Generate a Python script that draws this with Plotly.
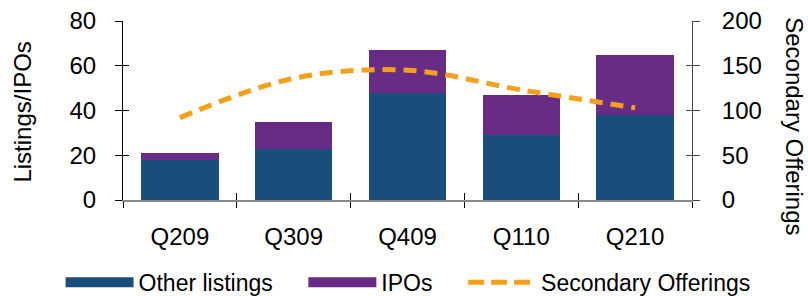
import plotly.graph_objects as go

quarters = ["Q209", "Q309", "Q409", "Q110", "Q210"]
other_listings = [18, 23, 48, 29, 38]
ipos = [3, 12, 19, 18, 27]
secondary_offerings = [92, 136, 145, 123, 103]

left_ticks = [0, 20, 40, 60, 80]
right_ticks = [0, 50, 100, 150, 200]

BLUE = "#1A4E7A"
PURPLE = "#682C87"
ORANGE = "#F5A01A"
FONT = "Liberation Sans, Arial, sans-serif"
FS = 24
LFS = 23
NB = "\u00a0"

fig = go.Figure()
fig.add_trace(go.Bar(x=quarters, y=other_listings, name="Other listings",
                     marker=dict(color=BLUE, line=dict(width=0)), showlegend=False))
fig.add_trace(go.Bar(x=quarters, y=ipos, name="IPOs",
                     marker=dict(color=PURPLE, line=dict(width=0)), showlegend=False))
fig.add_trace(go.Scatter(x=quarters, y=secondary_offerings, name="Secondary Offerings",
                         yaxis="y2", mode="lines",
                         line=dict(color=ORANGE, width=5, dash="13px,8px", shape="spline", smoothing=1.0),
                         showlegend=False))
# legend entries
fig.add_trace(go.Scatter(x=[None], y=[None], mode="lines", name="Other listings" + NB * 4,
                         line=dict(color=BLUE, width=12)))
fig.add_trace(go.Scatter(x=[None], y=[None], mode="lines", name="IPOs" + NB * 4,
                         line=dict(color=PURPLE, width=12)))
fig.add_trace(go.Scatter(x=[None], y=[None], mode="lines", name="Secondary Offerings",
                         line=dict(color=ORANGE, width=5, dash="16px,7px")))
# helper traces so the inner-tick overlay axes are drawn
fig.add_trace(go.Scatter(x=quarters, y=[None] * len(quarters), xaxis="x2", yaxis="y",
                         showlegend=False, hoverinfo="skip"))
fig.add_trace(go.Scatter(x=quarters, y=[None] * len(quarters), yaxis="y3",
                         showlegend=False, hoverinfo="skip"))
fig.add_trace(go.Scatter(x=quarters, y=[None] * len(quarters), yaxis="y4",
                         showlegend=False, hoverinfo="skip"))

fig.update_layout(
    width=808, height=296,
    margin=dict(l=123, r=116, t=21, b=96, autoexpand=False),
    barmode="stack", bargap=0.32,
    plot_bgcolor="white", paper_bgcolor="white",
    font=dict(family=FONT, size=FS, color="black"),
    xaxis=dict(type="category", categoryarray=quarters, range=[-0.5, 4.5],
               showline=True, linecolor="#888888", linewidth=1.5,
               ticks="outside", tickson="boundaries", ticklen=6, tickcolor="black",
               showgrid=False, ticklabelstandoff=14, automargin=False),
    xaxis2=dict(type="category", categoryarray=quarters, range=[-0.5, 4.5],
                overlaying="x", anchor="y", side="bottom", showline=False,
                ticks="inside", tickson="boundaries", ticklen=7, tickcolor="black",
                showticklabels=False, showgrid=False, automargin=False),
    yaxis=dict(range=[0, 80], tickvals=left_ticks, showline=True, linecolor="black",
               linewidth=1, ticks="outside", ticklen=7, tickcolor="black",
               showgrid=False, zeroline=False, ticklabelstandoff=14, automargin=False),
    yaxis3=dict(range=[0, 80], tickvals=left_ticks, overlaying="y", side="left",
                showline=False, ticks="inside", ticklen=6, tickcolor="black",
                showticklabels=False, showgrid=False, zeroline=False, automargin=False),
    yaxis2=dict(range=[0, 200], tickvals=right_ticks, overlaying="y", side="right",
                showline=True, linecolor="#444444", linewidth=1, ticks="outside",
                ticklen=7, tickcolor="#444444", showgrid=False, zeroline=False,
                ticklabelstandoff=17, automargin=False),
    yaxis4=dict(range=[0, 200], tickvals=right_ticks, overlaying="y", side="right",
                showline=False, ticks="inside", ticklen=6, tickcolor="#444444",
                showticklabels=False, showgrid=False, zeroline=False, automargin=False),
    legend=dict(orientation="h", x=-0.1097, xanchor="left", y=-0.46, yanchor="middle",
                itemwidth=68, font=dict(size=LFS), traceorder="normal"),
    showlegend=True,
    annotations=[
        dict(text="Listings/IPOs", textangle=-90, xref="paper", yref="paper",
             x=-0.177, y=0.49, xanchor="center", yanchor="middle", showarrow=False,
             font=dict(size=FS)),
        dict(text="Secondary Offerings", textangle=90, xref="paper", yref="paper",
             x=1.18, y=0.41, xanchor="center", yanchor="middle", showarrow=False,
             font=dict(size=FS)),
    ],
)

fig.write_html("out.html", config={"displayModeBar": False},
               post_script="document.body.style.margin='0';document.body.style.overflow='hidden';")
